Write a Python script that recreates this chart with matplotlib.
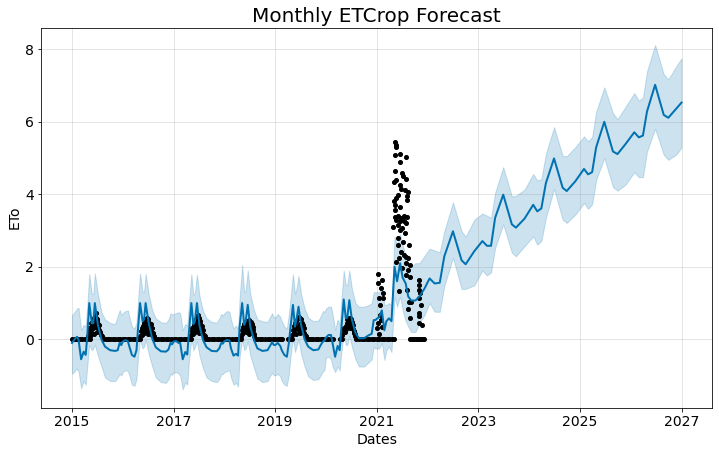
import matplotlib
matplotlib.use('Agg')
import matplotlib.pyplot as plt

# forecast knots, dates as decimal years
fc_dates = [
    2015.00, 2015.05, 2015.10, 2015.13, 2015.18, 2015.23, 2015.27, 2015.30, 2015.34, 2015.39, 2015.42, 2015.45, 2015.51, 2015.58, 2015.65, 2015.75, 2015.85, 2015.90, 2015.94, 2015.97,
    2016.00, 2016.05, 2016.10, 2016.13, 2016.18, 2016.23, 2016.27, 2016.30, 2016.34, 2016.39, 2016.42, 2016.45, 2016.51, 2016.58, 2016.65, 2016.75, 2016.85, 2016.90, 2016.94, 2016.97,
    2017.00, 2017.05, 2017.10, 2017.13, 2017.18, 2017.23, 2017.27, 2017.30, 2017.35, 2017.39, 2017.42, 2017.46, 2017.51, 2017.58, 2017.65, 2017.75, 2017.85, 2017.90, 2017.94, 2017.97,
    2018.00, 2018.05, 2018.10, 2018.13, 2018.18, 2018.23, 2018.27, 2018.30, 2018.35, 2018.39, 2018.42, 2018.46, 2018.51, 2018.58, 2018.65, 2018.75, 2018.85, 2018.90, 2018.94, 2018.97,
    2019.00, 2019.05, 2019.10, 2019.13, 2019.18, 2019.23, 2019.27, 2019.30, 2019.35, 2019.39, 2019.42, 2019.46, 2019.51, 2019.58, 2019.65, 2019.75, 2019.85, 2019.90, 2019.94, 2019.97,
    2020.00, 2020.05, 2020.10, 2020.13, 2020.18, 2020.23, 2020.27, 2020.30, 2020.35, 2020.39, 2020.42, 2020.46, 2020.51, 2020.58, 2020.65, 2020.75, 2020.85, 2020.90, 2020.94, 2020.97,
    2021.05, 2021.10, 2021.15, 2021.19, 2021.24, 2021.29, 2021.35, 2021.40, 2021.46, 2021.51, 2021.57, 2021.62, 2021.68, 2021.76, 2021.84, 2021.94, 2022.04, 2022.14, 2022.24,
    2022.33, 2022.50, 2022.67, 2022.75, 2022.92, 2023.08, 2023.17, 2023.25, 2023.33, 2023.49, 2023.66, 2023.74, 2023.91,
    2024.08, 2024.16, 2024.24, 2024.33, 2024.49, 2024.66, 2024.74, 2024.91, 2025.08, 2025.16, 2025.24, 2025.32, 2025.48,
    2025.65, 2025.74, 2025.90, 2026.07, 2026.16, 2026.24, 2026.32, 2026.48, 2026.65, 2026.74, 2026.90, 2027.00,
]
yhat = [
    -.10, 0, .07, -.02, -.55, -.34, -.43, .07, 1.0, .44, .45, 1.0, .40, 0, -.20, -.30, -.32, -.30, -.09, -.16,
    -.06, -.02, -.05, -.20, -.43, -.48, -.30, .30, 1.0, .50, .55, 1.0, .45, .02, -.22, -.33, -.34, -.28, -.10, -.14,
    -.06, -.05, -.10, -.10, -.55, -.35, -.42, .15, 1.0, .42, .50, 1.0, .38, -.02, -.22, -.32, -.33, -.25, -.10, -.12,
    -.05, -.02, -.03, -.25, -.45, -.40, -.45, .35, 1.0, .40, .50, .95, .35, 0, -.25, -.32, -.30, -.18, -.08, -.15,
    -.16, -.10, -.18, -.30, -.43, -.48, -.10, .30, .95, .35, .55, .90, .40, 0, -.20, -.30, -.28, -.15, -.06, -.04,
    .05, .12, .12, -.10, -.48, -.18, -.30, .25, 1.1, .58, .60, 1.08, .55, .18, .03, .03, .12, .15, .53, .53,
    .62, .80, .25, .50, .58, .50, 2.0, 1.6, 2.1, 1.70, 1.54, 1.18, 1.07, 1.07, 1.18, 1.40, 1.68, 1.54, 1.56,
    2.29, 2.98, 2.18, 2.07, 2.43, 2.71, 2.58, 2.58, 3.35, 3.99, 3.17, 3.08, 3.33,
    3.71, 3.53, 3.61, 4.31, 4.99, 4.18, 4.09, 4.36, 4.70, 4.55, 4.61, 5.30, 6.0,
    5.18, 5.11, 5.39, 5.71, 5.57, 5.62, 6.28, 7.02, 6.19, 6.11, 6.37, 6.53,
]
yhat_upper = [
    .67, .75, .85, .87, .26, .40, .35, .90, 1.80, 1.25, 1.25, 1.82, 1.25, .75, .55, .45, .42, .65, .81, .67,
    .72, .78, .80, .62, .35, .30, .45, 1.05, 1.82, 1.30, 1.32, 1.80, 1.25, .80, .58, .47, .45, .55, .72, .68,
    .70, .72, .75, .72, .25, .42, .38, .95, 1.80, 1.22, 1.28, 1.78, 1.20, .78, .58, .48, .46, .58, .70, .66,
    .72, .78, .76, .55, .30, .38, .28, 1.15, 2.05, 1.30, 1.35, 1.90, 1.25, .82, .55, .50, .48, .62, .72, .62,
    .60, .70, .62, .50, .35, .30, .70, 1.10, 1.80, 1.25, 1.40, 1.75, 1.25, .85, .60, .50, .52, .65, .78, .76,
    .85, .90, .90, .70, .26, .55, .40, 1.0, 1.90, 1.50, 1.50, 1.90, 1.40, 1.0, .90, .90, .95, 1.0, 1.30, 1.30,
    1.30, 1.45, .95, .95, 1.0, .95, 2.83, 2.60, 2.90, 2.60, 2.30, 2.10, 2.0, 2.10, 2.10, 2.30, 2.50, 2.45, 2.40,
    2.98, 3.78, 2.98, 2.83, 3.30, 3.47, 3.41, 3.35, 4.04, 4.75, 3.94, 3.96, 4.13,
    4.56, 4.38, 4.42, 5.12, 5.85, 5.06, 5.05, 5.30, 5.60, 5.46, 5.58, 6.28, 6.95,
    6.24, 6.07, 6.42, 6.79, 6.58, 6.67, 7.39, 8.12, 7.31, 7.17, 7.54, 7.75,
]
yhat_lower = [
    -.95, -.88, -.80, -.90, -1.35, -1.15, -1.25, -.75, -.15, -.30, -.25, -.15, -.45, -.75, -1.05, -1.15, -1.15, -1.05, -.95, -1.0,
    -.90, -.85, -.88, -1.0, -1.25, -1.28, -1.10, -.50, .0, -.25, -.20, .0, -.40, -.75, -1.05, -1.18, -1.20, -1.10, -.95, -.98,
    -.92, -.90, -.95, -1.0, -1.38, -1.18, -1.25, -.65, .02, -.30, -.22, -.05, -.45, -.80, -1.05, -1.15, -1.18, -1.10, -.95, -.96,
    -.90, -.88, -.85, -1.05, -1.25, -1.20, -1.30, -.50, .0, -.30, -.25, -.05, -.45, -.78, -1.08, -1.18, -1.15, -1.0, -.92, -.98,
    -1.0, -.95, -1.02, -1.15, -1.25, -1.28, -.95, -.50, .05, -.35, -.20, .0, -.40, -.75, -1.02, -1.12, -1.10, -.98, -.88, -.85,
    -.50, -.48, -.55, -.75, -.90, -.75, -.85, -.40, .15, -.15, -.15, .10, -.20, -.55, -.75, -.75, -.62, -.55, -.20, -.25,
    -.25, -.10, -.57, -.30, -.20, -.35, 1.18, .90, 1.18, .80, .50, .35, .20, .20, .45, .67, 1.0, .76, .76,
    1.47, 2.25, 1.39, 1.39, 1.49, 1.90, 1.76, 1.85, 2.52, 3.17, 2.39, 2.29, 2.57,
    2.84, 2.61, 2.71, 3.35, 4.15, 3.30, 3.21, 3.44, 3.76, 3.60, 3.72, 4.40, 5.0,
    4.20, 4.10, 4.27, 4.61, 4.47, 4.47, 5.18, 5.81, 5.09, 4.95, 5.10, 5.29,
]

# observed days sitting on zero
zero_dates = [
    2015.00, 2015.05, 2015.10, 2015.15, 2015.20, 2015.25, 2015.30, 2015.35, 2015.62, 2015.66, 2015.70, 2015.75, 2015.80, 2015.85, 2015.90, 2015.95,
    2016.00, 2016.05, 2016.10, 2016.15, 2016.20, 2016.25, 2016.30, 2016.34, 2016.62, 2016.66, 2016.70, 2016.75, 2016.80, 2016.85, 2016.90, 2016.95,
    2017.00, 2017.05, 2017.10, 2017.15, 2017.20, 2017.25, 2017.30, 2017.35, 2017.62, 2017.66, 2017.70, 2017.75, 2017.80, 2017.85, 2017.90, 2017.95,
    2018.00, 2018.05, 2018.10, 2018.15, 2018.20, 2018.25, 2018.30, 2018.33, 2018.60, 2018.65, 2018.70, 2018.75, 2018.80, 2018.85, 2018.90, 2018.95,
    2019.00, 2019.05, 2019.10, 2019.14, 2019.26, 2019.30, 2019.34, 2019.62, 2019.66, 2019.70, 2019.75, 2019.80, 2019.85, 2019.90, 2019.95,
    2020.00, 2020.05, 2020.09, 2020.13, 2020.28, 2020.31, 2020.60, 2020.65, 2020.70, 2020.75, 2020.80, 2020.85, 2020.90, 2020.95,
    2021.00, 2021.05, 2021.10, 2021.15, 2021.20, 2021.25, 2021.30, 2021.34,
    2021.66, 2021.70, 2021.74, 2021.78, 2021.82, 2021.86, 2021.90, 2021.93,
]

# observed days above zero, one row per season
wet_dates = [
    2015.32, 2015.33, 2015.34, 2015.36, 2015.36, 2015.37, 2015.38, 2015.40, 2015.40, 2015.41, 2015.42, 2015.43, 2015.44, 2015.44, 2015.45, 2015.46, 2015.47, 2015.47, 2015.48, 2015.49, 2015.49, 2015.50, 2015.51, 2015.52, 2015.53, 2015.54, 2015.56, 2015.57, 2015.59, 2015.61,
    2016.33, 2016.35, 2016.37, 2016.38, 2016.39, 2016.40, 2016.41, 2016.42, 2016.43, 2016.44, 2016.45, 2016.45, 2016.46, 2016.47, 2016.48, 2016.49, 2016.50, 2016.50, 2016.51, 2016.52, 2016.53, 2016.54, 2016.55, 2016.56, 2016.57, 2016.58, 2016.60, 2016.61,
    2017.34, 2017.36, 2017.37, 2017.39, 2017.40, 2017.41, 2017.42, 2017.43, 2017.44, 2017.45, 2017.46, 2017.47, 2017.48, 2017.48, 2017.49, 2017.50, 2017.51, 2017.52, 2017.52, 2017.53, 2017.54, 2017.55, 2017.56, 2017.58, 2017.59, 2017.61,
    2018.32, 2018.34, 2018.35, 2018.37, 2018.38, 2018.39, 2018.40, 2018.41, 2018.42, 2018.43, 2018.44, 2018.46, 2018.47, 2018.48, 2018.49, 2018.50, 2018.51, 2018.52, 2018.53, 2018.54, 2018.55, 2018.56, 2018.57, 2018.58, 2018.59,
    2019.33, 2019.35, 2019.37, 2019.38, 2019.39, 2019.40, 2019.41, 2019.42, 2019.44, 2019.45, 2019.46, 2019.47, 2019.48, 2019.49, 2019.50, 2019.51, 2019.52, 2019.53, 2019.54, 2019.56, 2019.57, 2019.59, 2019.61,
    2020.32, 2020.33, 2020.35, 2020.36, 2020.38, 2020.39, 2020.40, 2020.41, 2020.42, 2020.44, 2020.45, 2020.46, 2020.47, 2020.48, 2020.49, 2020.50, 2020.51, 2020.52, 2020.53, 2020.54, 2020.55, 2020.56, 2020.57, 2020.58,
    2021.00, 2021.02, 2021.02, 2021.03, 2021.05, 2021.05, 2021.065, 2021.07, 2021.085, 2021.085, 2021.105, 2021.105, 2021.12, 2021.13,
    2021.315, 2021.335, 2021.335, 2021.35, 2021.35, 2021.35, 2021.36, 2021.36, 2021.36, 2021.37, 2021.37, 2021.375, 2021.38, 2021.38, 2021.38, 2021.41, 2021.41, 2021.41, 2021.41, 2021.41, 2021.43, 2021.43,
    2021.45, 2021.45, 2021.45, 2021.45, 2021.45, 2021.46, 2021.47, 2021.48, 2021.48, 2021.49, 2021.50, 2021.50, 2021.51, 2021.51, 2021.53, 2021.53, 2021.53, 2021.55, 2021.55, 2021.57, 2021.57, 2021.57, 2021.57, 2021.57, 2021.58, 2021.59, 2021.59, 2021.59, 2021.59,
    2021.61, 2021.61, 2021.61, 2021.61, 2021.63, 2021.63, 2021.645, 2021.645, 2021.645, 2021.68, 2021.83, 2021.83, 2021.83, 2021.83, 2021.84, 2021.84, 2021.84, 2021.855, 2021.875, 2021.895,
]
wet_vals = [
    .10, .20, .30, .08, .25, .35, .45, .18, .40, .50, .30, .55, .15, .60, .40, .65, .35, .72, .60, .20, .50, .55, .42, .35, .40, .25, .20, .12, .10, .05,
    .10, .22, .30, .12, .38, .28, .44, .18, .50, .35, .55, .22, .42, .58, .30, .48, .15, .55, .38, .45, .25, .35, .42, .20, .30, .12, .18, .08,
    .12, .22, .32, .15, .40, .28, .48, .20, .55, .35, .60, .25, .68, .45, .30, .58, .18, .50, .35, .42, .28, .38, .20, .25, .12, .08,
    .10, .25, .15, .35, .22, .42, .30, .48, .20, .38, .50, .28, .45, .52, .15, .40, .30, .48, .22, .42, .32, .25, .35, .15, .10,
    .12, .25, .18, .38, .28, .45, .15, .50, .35, .58, .25, .62, .42, .18, .55, .32, .45, .25, .40, .30, .18, .12, .08,
    .12, .28, .22, .32, .20, .38, .28, .45, .55, .35, .60, .48, .30, .58, .42, .55, .35, .48, .28, .40, .22, .18, .15, .10,
    .30, 1.79, 1.54, .44, .15, 1.13, .67, .95, 1.41, .53, .35, 1.64, 1.13, 1.27,
    3.11, 4.35, 3.82, 4.63, 3.57, 3.37, 5.43, 5.08, 3.70, 5.30, 4.40, 5.36, 3.89, 3.29, 2.14, 3.98, 3.40, 3.15, 2.79, 2.60, 2.23, 1.33,
    4.88, 4.26, 3.66, 3.25, 3.02, 5.11, 4.14, 3.34, 2.42, 4.60, 3.06, 1.96, 4.50, 2.69, 3.40, 3.25, 2.33, 4.12, 2.92, 5.02, 4.41, 2.28, 2.10, 1.77, 3.20, 3.95, 3.84, 3.38, 1.36,
    4.07, 2.23, 1.91, .83, 2.60, 1.04, 2.05, 1.73, .58, 1.04, 1.64, 1.50, 1.13, .64, 1.36, .72, .44, 1.27, .95, .40,
]

xtick_years = [2015, 2017, 2019, 2021, 2023, 2025, 2027]
ytick_vals = [0, 2, 4, 6, 8]

fig = plt.figure(figsize=(719 / 72, 453 / 72), dpi=72)
ax = fig.add_axes([41.3 / 719, 1 - 407.5 / 453, (712 - 41.3) / 719, (407.5 - 27.5) / 453])

ax.plot(zero_dates, [0] * len(zero_dates), 'k.', ms=8)
ax.plot(wet_dates, wet_vals, 'k.', ms=8)
ax.plot(fc_dates, yhat, ls='-', c='#0072B2', lw=2)
ax.fill_between(fc_dates, yhat_lower, yhat_upper, color='#0072B2', alpha=0.2)
ax.grid(True, which='major', c='gray', ls='-', lw=1, alpha=0.2)

ax.set_xlim(2014.396, 2027.6)
ax.set_ylim(-1.88, 8.6)
ax.set_xticks(xtick_years)
ax.set_xticklabels([str(y) for y in xtick_years])
ax.set_yticks(ytick_vals)
ax.tick_params(labelsize=14)
ax.set_xlabel('Dates', fontsize=14)
ax.set_ylabel('ETo', fontsize=14)
ax.set_title('Monthly ETCrop Forecast', fontsize=20)

fig.savefig('out.png', dpi=72)
